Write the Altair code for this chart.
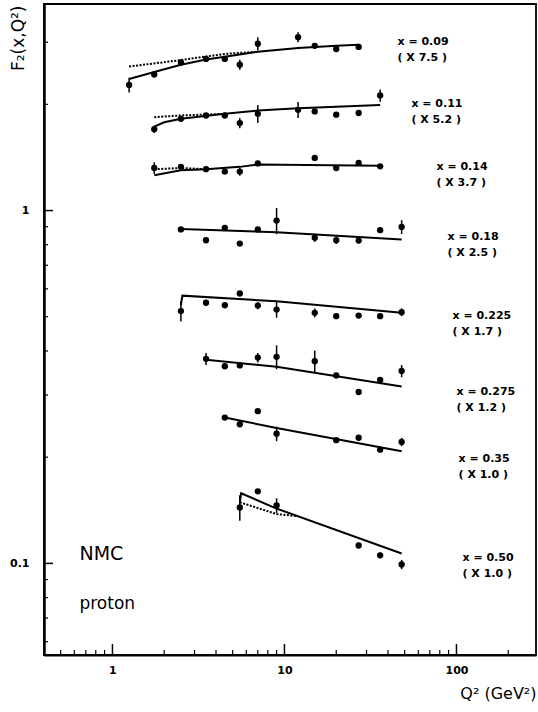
import altair as alt
import pandas as pd

# ---------------- data ----------------
SERIES = ["0.09", "0.11", "0.14", "0.18", "0.225", "0.275", "0.35", "0.50"]
FACTORS = ["7.5", "5.2", "3.7", "2.5", "1.7", "1.2", "1.0", "1.0"]

q2_009 = [1.25, 1.75, 2.5, 3.5, 4.5, 5.5, 7, 12, 15, 20, 27]
f2_009 = [2.27, 2.43, 2.63, 2.69, 2.69, 2.59, 2.97, 3.10, 2.93, 2.87, 2.91]
er_009 = [0.11, 0.04, 0.04, 0.04, 0.04, 0.085, 0.13, 0.10, 0.04, 0.04, 0.04]

q2_011 = [1.75, 2.5, 3.5, 4.5, 5.5, 7, 12, 15, 20, 27, 36]
f2_011 = [1.70, 1.82, 1.86, 1.86, 1.77, 1.88, 1.93, 1.91, 1.87, 1.89, 2.12]
er_011 = [0.04, 0.03, 0.03, 0.03, 0.06, 0.11, 0.10, 0.03, 0.03, 0.03, 0.085]

q2_014 = [1.75, 2.5, 3.5, 4.5, 5.5, 7, 15, 20, 27, 36]
f2_014 = [1.32, 1.33, 1.31, 1.29, 1.29, 1.36, 1.41, 1.32, 1.365, 1.335]
er_014 = [0.05, 0.02, 0.02, 0.02, 0.035, 0.02, 0.02, 0.02, 0.02, 0.02]

q2_018 = [2.5, 3.5, 4.5, 5.5, 7, 9, 15, 20, 27, 36, 48]
f2_018 = [0.884, 0.824, 0.893, 0.806, 0.884, 0.937, 0.837, 0.824, 0.822, 0.88, 0.899]
er_018 = [0.012, 0.012, 0.012, 0.012, 0.012, 0.08, 0.022, 0.02, 0.015, 0.012, 0.04]

q2_0225 = [2.5, 3.5, 4.5, 5.5, 7, 9, 15, 20, 27, 36, 48]
f2_0225 = [0.519, 0.548, 0.539, 0.582, 0.538, 0.524, 0.513, 0.502, 0.504, 0.502, 0.515]
er_0225 = [0.034, 0.008, 0.008, 0.008, 0.013, 0.027, 0.015, 0.008, 0.008, 0.008, 0.013]

q2_0275 = [3.5, 4.5, 5.5, 7, 9, 15, 20, 27, 36, 48]
f2_0275 = [0.380, 0.362, 0.364, 0.383, 0.385, 0.374, 0.341, 0.306, 0.331, 0.351]
er_0275 = [0.015, 0.005, 0.005, 0.012, 0.03, 0.027, 0.006, 0.006, 0.006, 0.014]

q2_035 = [4.5, 5.5, 7, 9, 20, 27, 36, 48]
f2_035 = [0.259, 0.248, 0.270, 0.233, 0.2235, 0.227, 0.210, 0.221]
er_035 = [0.004, 0.003, 0.003, 0.011, 0.003, 0.003, 0.003, 0.006]

q2_050 = [5.5, 7, 9, 27, 36, 48]
f2_050 = [0.144, 0.160, 0.146, 0.1124, 0.1054, 0.0993]
er_050 = [0.012, 0.002, 0.007, 0.002, 0.002, 0.003]

# fit curves (solid) and alternative fit (dotted), nodes
fit_q2 = {
    "0.09": [1.25, 1.75, 2.5, 3.5, 4.5, 7, 12, 20, 27],
    "0.11": [1.75, 2.0, 2.5, 4.5, 7, 12, 20, 36],
    "0.14": [1.75, 2.5, 3.5, 5.5, 7, 36],
    "0.18": [2.5, 9, 48],
    "0.225": [2.5, 2.55, 9, 48],
    "0.275": [3.5, 9, 48],
    "0.35": [4.5, 9, 48],
    "0.50": [5.5, 5.6, 9, 48],
}
fit_f2 = {
    "0.09": [2.36, 2.47, 2.59, 2.68, 2.73, 2.82, 2.89, 2.93, 2.95],
    "0.11": [1.73, 1.78, 1.82, 1.88, 1.92, 1.95, 1.97, 1.99],
    "0.14": [1.26, 1.30, 1.31, 1.33, 1.35, 1.34],
    "0.18": [0.887, 0.868, 0.828],
    "0.225": [0.540, 0.574, 0.553, 0.513],
    "0.275": [0.378, 0.361, 0.317],
    "0.35": [0.259, 0.242, 0.208],
    "0.50": [0.1486, 0.158, 0.143, 0.1067],
}
dot_q2 = {
    "0.09": [1.25, 2.5, 4.5, 7],
    "0.11": [1.75, 2.5, 4.5],
    "0.14": [1.75, 2.5, 3.5],
    "0.50": [5.5, 9, 12],
}
dot_f2 = {
    "0.09": [2.56, 2.67, 2.78, 2.82],
    "0.11": [1.84, 1.86, 1.88],
    "0.14": [1.31, 1.32, 1.31],
    "0.50": [0.149, 0.138, 0.136],
}

# annotation anchors (Q², F2) for the bin labels
label_q2 = [45.4, 54.7, 76.5, 88.7, 94.8, 100, 102.8, 108.4]
label_f2 = [3.01, 2.00, 1.332, 0.839, 0.501, 0.307, 0.197, 0.1033]

# axis ticks
x_major = [1, 10, 100]
x_minor = [0.5, 0.6, 0.7, 0.8, 0.9, 2, 3, 4, 5, 6, 7, 8, 9,
           20, 30, 40, 50, 60, 70, 80, 90, 200]
y_major = [0.1, 1]
y_minor = [0.06, 0.07, 0.08, 0.09, 0.2, 0.3, 0.4, 0.5, 0.6, 0.7, 0.8, 0.9, 2, 3]

# ---------------- build tables ----------------
pts_q2 = [q2_009, q2_011, q2_014, q2_018, q2_0225, q2_0275, q2_035, q2_050]
pts_f2 = [f2_009, f2_011, f2_014, f2_018, f2_0225, f2_0275, f2_035, f2_050]
pts_er = [er_009, er_011, er_014, er_018, er_0225, er_0275, er_035, er_050]

rows = []
for s, qs, fs, es in zip(SERIES, pts_q2, pts_f2, pts_er):
    for q, f, e in zip(qs, fs, es):
        rows.append({"series": s, "Q2": q, "F2": f, "lo": f - e, "hi": f + e})
points = pd.DataFrame(rows)

def curve_table(qd, fd):
    r = []
    for s in qd:
        for i, (q, f) in enumerate(zip(qd[s], fd[s])):
            r.append({"series": s, "Q2": q, "F2": f, "k": i})
    return pd.DataFrame(r)

solid = curve_table(fit_q2, fit_f2)
dotted = curve_table(dot_q2, dot_f2)

labels = pd.DataFrame({
    "Q2": label_q2, "F2": label_f2,
    "l1": ["x = " + s for s in SERIES],
    "l2": ["( X " + f + " )" for f in FACTORS],
})

W, H = 492, 651
xs = alt.Scale(type="log", domain=[0.4, 290], nice=False)
ys = alt.Scale(type="log", domain=[0.055, 3.85], nice=False)
FONT = "DejaVu Sans"

x_axis = alt.Axis(
    values=x_major, format="~g", ticks=False, tickSize=0, grid=False,
    labelPadding=9, labelFontSize=11, labelFontWeight="bold", labelFont=FONT,
    labelColor="black", domainColor="black", domainWidth=2,
    title="Q² (GeV²)", titleFont=FONT, titleFontSize=16, titleFontWeight="normal",
    titleAnchor="end", titleAlign="right", titlePadding=10, titleColor="black")
y_axis = alt.Axis(
    values=y_major, format="~g", ticks=False, tickSize=0, grid=False,
    labelPadding=15, labelFontSize=11, labelFontWeight="bold", labelFont=FONT,
    labelColor="black", domainColor="black", domainWidth=2.5,
    title="F₂(x,Q²)", titleFont=FONT, titleFontSize=17, titleFontWeight="normal",
    titleAngle=270, titleAlign="right", titleBaseline="middle",
    titleX=-26, titleY=1, titleColor="black")

X = alt.X("Q2:Q", scale=xs, axis=x_axis, title="Q² (GeV²)")
Y = alt.Y("F2:Q", scale=ys, axis=y_axis, title="F₂(x,Q²)")

tick_x_major = alt.Chart(pd.DataFrame({"Q2": x_major})).mark_rule(color="black", strokeWidth=1.5).encode(
    x=X, y=alt.value(H), y2=alt.value(H - 11))
tick_x_minor = alt.Chart(pd.DataFrame({"Q2": x_minor})).mark_rule(color="black", strokeWidth=1.2).encode(
    x=X, y=alt.value(H), y2=alt.value(H - 5))
tick_y_major = alt.Chart(pd.DataFrame({"F2": y_major})).mark_rule(color="black", strokeWidth=1.5).encode(
    y=Y, x=alt.value(0), x2=alt.value(9))
tick_y_minor = alt.Chart(pd.DataFrame({"F2": y_minor})).mark_rule(color="black", strokeWidth=1.2).encode(
    y=Y, x=alt.value(0), x2=alt.value(4))

errbars = alt.Chart(points).mark_rule(color="black", strokeWidth=1.5).encode(
    x=X, y=alt.Y("lo:Q", scale=ys, axis=y_axis, title="F₂(x,Q²)"), y2="hi:Q")
dots = alt.Chart(points).mark_circle(color="black", size=40, opacity=1).encode(x=X, y=Y)

solid_lines = alt.Chart(solid).mark_line(color="black", strokeWidth=2).encode(
    x=X, y=Y, detail="series:N", order="k:Q")
dotted_lines = alt.Chart(dotted).mark_line(color="black", strokeWidth=2, strokeDash=[2, 1.5]).encode(
    x=X, y=Y, detail="series:N", order="k:Q")

lab1 = alt.Chart(labels).mark_text(align="left", baseline="middle", font=FONT, fontSize=11,
                                   fontWeight="bold", color="black").encode(x=X, y=Y, text="l1:N")
lab2 = alt.Chart(labels).mark_text(align="left", baseline="middle", font=FONT, fontSize=11,
                                   fontWeight="bold", color="black", dy=16).encode(x=X, y=Y, text="l2:N")

tag = pd.DataFrame({"Q2": [0.643, 0.643], "F2": [0.106, 0.0766],
                    "t": ["NMC", "proton"], "fs": [19, 17]})
tags = alt.Chart(tag).mark_text(align="left", baseline="middle", font=FONT, color="black").encode(
    x=X, y=Y, text="t:N", size=alt.Size("fs:Q", scale=None, legend=None))

chart = alt.layer(
    dots, tick_x_major, tick_x_minor, tick_y_major, tick_y_minor,
    dotted_lines, solid_lines, errbars, lab1, lab2, tags
).properties(
    width=W, height=H,
    autosize=alt.AutoSizeParams(type="none"),
    padding={"left": 44, "top": 4, "right": 2, "bottom": 57},
    background="white",
).configure_view(stroke="black", strokeWidth=1.8)

chart.save("out.html", embed_options={"renderer": "svg", "actions": False})
